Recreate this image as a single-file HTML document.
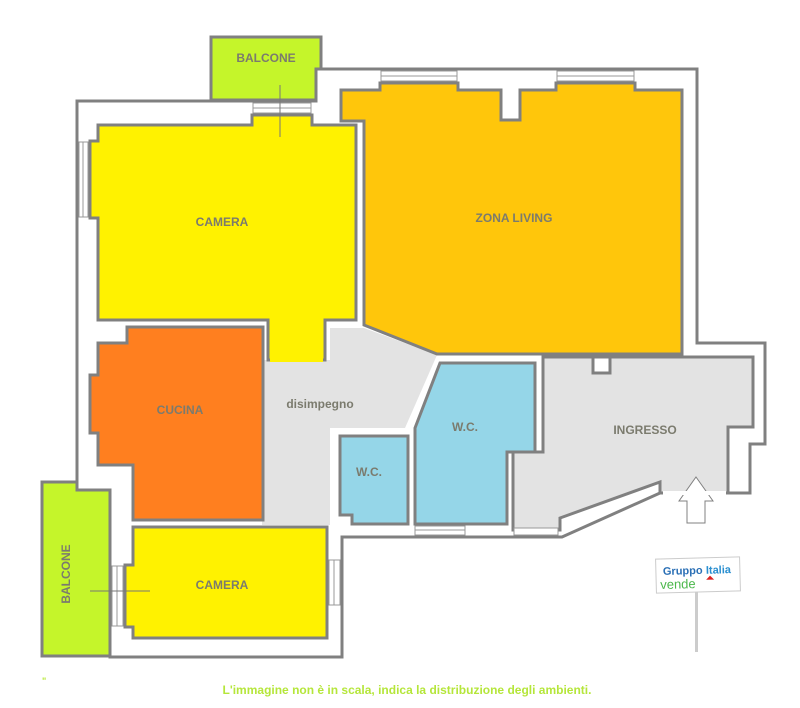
<!DOCTYPE html>
<html><head><meta charset="utf-8"><style>
html,body{margin:0;padding:0;background:#fff;width:800px;height:708px;overflow:hidden}
svg text{font-family:"Liberation Sans",sans-serif;font-weight:bold;fill:#7b7b6e}
</style></head><body>
<svg width="800" height="708" viewBox="0 0 800 708" xmlns="http://www.w3.org/2000/svg">
<g stroke="#808080" stroke-width="3" stroke-linejoin="miter">
<rect x="211" y="37" width="110" height="63" fill="#c5f52a"/>
<polygon points="42,482 77,482 77,490 110,490 110,656 42,656" fill="#c5f52a"/>
<polygon points="77,101 316,101 316,69 697,69 697,343 765,343 765,444 750,444 750,493 728,493 660,493 562,537 342,537 342,657 110,657 110,490 77,490" fill="#fff"/>
<polygon points="262,360 330,360 330,328 364,328 437,355 405,428 330,428 330,525 262,525" fill="#e3e3e3" stroke="none"/>
<polygon points="543,357 753,357 753,427 728,427 728,493 660,493 660,482 560,518 560,530 513,530 513,452 543,452" fill="#e3e3e3"/>
<polygon points="98,125 252,125 252,115 312,115 312,125 356,125 356,320 325,320 325,360 268,360 268,320 98,320 98,218 90,218 90,141 98,141" fill="#fff200"/>
<polygon points="341,90 380,90 380,83 458,83 458,90 501,90 501,120 520,120 520,90 556,90 556,83 635,83 635,90 682,90 682,354 437,354 364,325 364,121 341,121" fill="#ffc60b"/>
<polygon points="98,343 127,343 127,327 263,327 263,520 133,520 133,465 98,465 98,433 90,433 90,375 98,375" fill="#ff7f1f"/>
<polygon points="440,363 535,363 535,452 507,452 507,524 415,524 415,428" fill="#95d6e8"/>
<polygon points="340,436 408,436 408,524 352,524 352,515 340,515" fill="#95d6e8"/>
<polygon points="133,527 327,527 327,638 133,638 133,627 125,627 125,565 133,565" fill="#fff200"/>
<rect x="593" y="357" width="17" height="16" fill="#fff"/>
<polygon points="696,477 713,501 705,501 705,523 687,523 687,501 679,501" fill="#fff" stroke-width="1"/>
</g>
<g stroke-width="4">
<line x1="663" y1="493" x2="726" y2="493" stroke="#fff"/>
<line x1="270" y1="360" x2="323" y2="360" stroke="#fff200"/>
</g>
<g fill="#fff" stroke="#999" stroke-width="1">
<rect x="381" y="71" width="76" height="10"/><line x1="381" y1="76" x2="457" y2="76"/>
<rect x="557" y="71" width="77" height="10"/><line x1="557" y1="76" x2="634" y2="76"/>
<rect x="253" y="103" width="58" height="10"/><line x1="253" y1="108" x2="311" y2="108"/>
<rect x="79" y="142" width="9" height="75"/><line x1="83" y1="142" x2="83" y2="217"/>
<rect x="112" y="566" width="11" height="60"/><line x1="117" y1="566" x2="117" y2="626"/>
<rect x="329" y="560" width="11" height="45"/><line x1="334" y1="560" x2="334" y2="605"/>
<rect x="415" y="526" width="50" height="9"/><line x1="415" y1="530" x2="465" y2="530"/>
<rect x="514" y="528" width="44" height="7"/>
</g>
<line x1="280" y1="85" x2="280" y2="137" stroke="#777" stroke-width="1"/>
<line x1="90" y1="591" x2="150" y2="591" stroke="#777" stroke-width="1"/>
<g font-size="12" text-anchor="middle">
<text x="266" y="62">BALCONE</text>
<text x="222" y="226">CAMERA</text>
<text x="514" y="222">ZONA LIVING</text>
<text x="180" y="414">CUCINA</text>
<text x="320" y="408">disimpegno</text>
<text x="465" y="431">W.C.</text>
<text x="369" y="476">W.C.</text>
<text x="645" y="434">INGRESSO</text>
<text x="222" y="589">CAMERA</text>
<text transform="translate(70,574) rotate(-90)">BALCONE</text>
</g>
<g transform="rotate(-1.5 698 575)">
<rect x="656" y="558" width="84" height="34" fill="#fff" stroke="#ccc" stroke-width="1"/>
<text x="663" y="574" font-size="11" style="fill:#2a6fb5">Gruppo</text>
<text x="706" y="574" font-size="11" style="fill:#2a8fd0">Italia</text>
<text x="660" y="588" font-size="13" style="fill:#4cb84c;font-weight:normal">vende</text>
<polygon points="706,580 710,576 714,580" fill="#d22"/>
</g>
<rect x="695" y="592" width="3" height="60" fill="#ccc"/>
<text x="42" y="684" font-size="9" style="fill:#b7e836">"</text>
<text x="407" y="694" font-size="12" text-anchor="middle" style="fill:#b5e63a">L'immagine non è in scala, indica la distribuzione degli ambienti.</text>
</svg>
</body></html>
